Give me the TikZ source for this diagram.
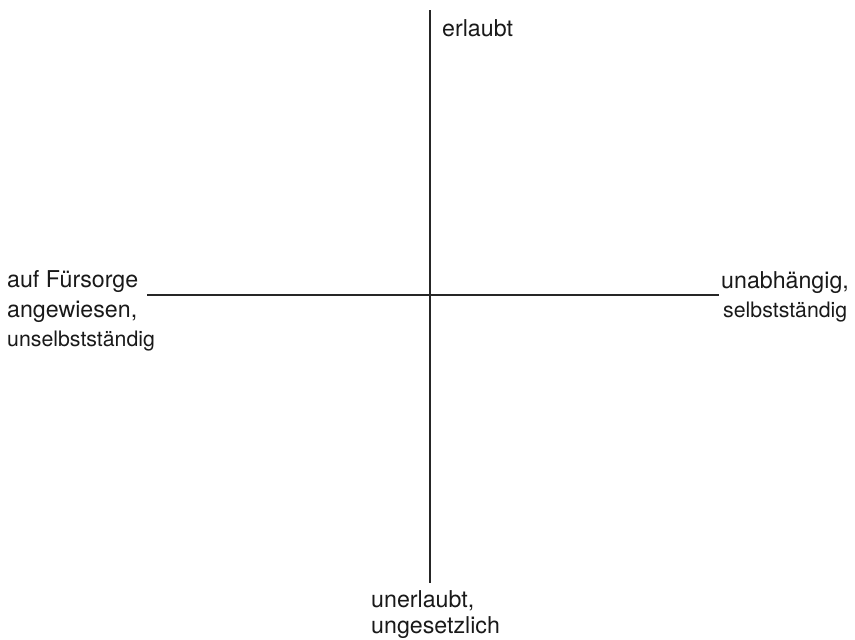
\documentclass[tikz,border=0pt]{standalone}
\usepackage{fontspec}
\setmainfont{TeX Gyre Heros}
\begin{document}
\begin{tikzpicture}[x=1pt,y=-1pt,
  axis/.style={line width=2.6pt,color=black!85},
  big/.style={inner sep=0pt,font=\fontsize{23.2}{27}\selectfont,text=black!90},
  small/.style={inner sep=0pt,font=\fontsize{21.3}{25}\selectfont,text=black!90}]
\useasboundingbox (0,0) rectangle (855,640);
\coordinate (top) at (430,10);
\coordinate (bottom) at (430,583);
\coordinate (left) at (147,295);
\coordinate (right) at (719,295);
\draw[axis] (top) -- (bottom);
\draw[axis] (left) -- (right);
\node[big,anchor=base west] (erl) at (442,36) {erlaubt};
\node[big,anchor=base west] (l1) at (7,287) {auf Fürsorge};
\node[big,anchor=base west] (l2) at (7,317) {angewiesen,};
\node[small,anchor=base west] (l3) at (7,346) {unselbstständig};
\node[big,anchor=base west] (r1) at (721,288) {unabhängig,};
\node[small,anchor=base west] (r2) at (723,317) {selbstständig};
\node[big,anchor=base west] (b1) at (371,607) {unerlaubt,};
\node[big,anchor=base west] (b2) at (371,633) {ungesetzlich};
\end{tikzpicture}
\end{document}
